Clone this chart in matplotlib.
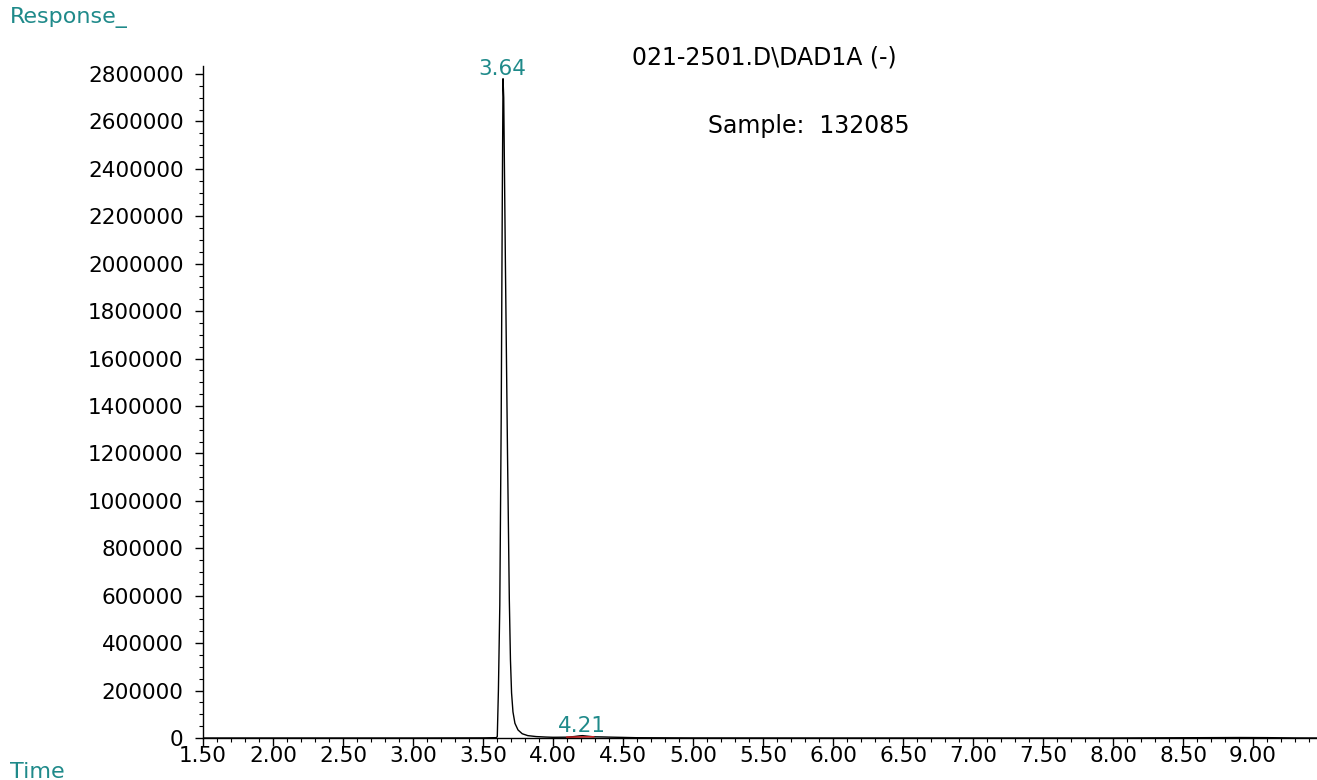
import matplotlib
matplotlib.use("Agg")
import matplotlib.pyplot as plt
from matplotlib.ticker import MultipleLocator, FixedLocator

plt.rcParams['font.family'] = ['DejaVu Sans']

# Chromatogram trace (time in min, response)
time = [1.50, 2.00, 3.00, 3.50, 3.595, 3.602, 3.610, 3.620, 3.630, 3.638, 3.643,
        3.648, 3.660, 3.675, 3.688, 3.696, 3.704, 3.714, 3.728, 3.750, 3.780, 3.820,
        3.880, 3.950, 4.000, 4.100, 4.150, 4.190, 4.210, 4.240, 4.290, 4.350, 4.420,
        4.500, 4.600, 5.000, 6.000, 7.000, 8.000, 8.700, 8.900, 9.100, 9.300, 9.457]
response = [0, 0, 0, 500, 1500, 6000, 200000, 560000, 1350000, 2300000, 2780000,
            2700000, 2000000, 1200000, 582000, 330000, 190000, 110000, 62000, 34000, 18000, 10000,
            6000, 4000, 3000, 3500, 6000, 9000, 10000, 8000, 5000, 4500, 3500,
            2500, 1200, 300, 0, 0, 0, 1500, 2000, 1500, 300, 0]

peak_labels = ["3.64", "4.21"]
peak_times = [3.64, 4.21]
peak_heights = [2780000, 10000]

# integration baseline of small peak
base_t = [4.10, 4.29]
base_r = [3500, 5000]

xticks = [1.5 + 0.5 * i for i in range(16)]
yticks = [200000 * i for i in range(15)]

teal = '#1f8a8a'

fig = plt.figure(figsize=(13.17, 7.80), dpi=100)
ax = fig.add_axes([203/1317, 42/780, 1114/1317, 672/780])

ax.plot(time, response, color='black', lw=1.0)
ax.plot(base_t, base_r, color='#cc2222', lw=1.2)

ax.set_xlim(1.5, 9.457)
ax.set_ylim(0, 2833700)

for s in ['top', 'right']:
    ax.spines[s].set_visible(False)
for s in ['left', 'bottom']:
    ax.spines[s].set_linewidth(1.0)

ax.xaxis.set_major_locator(FixedLocator(xticks))
ax.set_xticklabels([f"{v:.2f}" for v in xticks])
ax.xaxis.set_minor_locator(MultipleLocator(0.1))
ax.yaxis.set_major_locator(FixedLocator(yticks))
ax.set_yticklabels([str(v) for v in yticks])
ax.yaxis.set_minor_locator(MultipleLocator(50000))

ax.tick_params(axis='both', which='major', direction='out', length=6, width=1,
               labelsize=15.5, pad=0)
ax.tick_params(axis='both', which='minor', direction='out', length=3, width=0.8)
ax.tick_params(axis='y', which='major', pad=8)

for lab, t, h in zip(peak_labels, peak_times, peak_heights):
    ax.annotate(lab, xy=(t, h), xytext=(0, 0), textcoords='offset points',
                ha='center', va='bottom', color=teal, fontsize=15.5)

fig.text(10/1317, 1 - 18/780, "Response_", color=teal, fontsize=16,
         ha='left', va='center')
fig.text(10/1317, 1 - 772/780, "Time", color=teal, fontsize=16,
         ha='left', va='center')
fig.text(764/1317, 1 - 58/780, "021-2501.D\\DAD1A (-)", color='black', fontsize=17,
         ha='center', va='center')
fig.text(708/1317, 1 - 126/780, "Sample:  132085", color='black', fontsize=17,
         ha='left', va='center')

fig.savefig("out.png", dpi=100)
